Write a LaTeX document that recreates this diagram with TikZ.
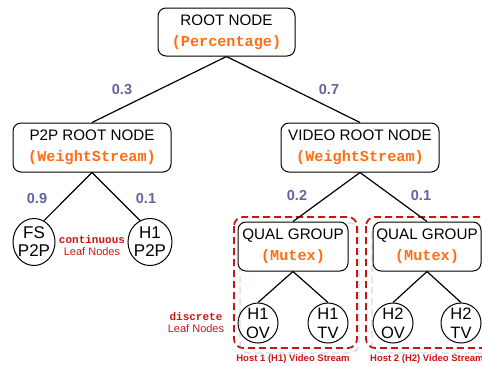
\documentclass[tikz,border=0pt]{standalone}
\usepackage{fontspec}
\setmainfont{Liberation Sans}
\setmonofont{Liberation Mono}
\usetikzlibrary{shapes.geometric}
\definecolor{codeor}{RGB}{255,110,20}
\definecolor{wnum}{RGB}{100,100,160}
\definecolor{dred}{RGB}{204,20,20}
\definecolor{lblue}{RGB}{205,218,238}
\newcommand{\codetxt}[1]{{\ttfamily\bfseries\color{codeor}#1}}
\begin{document}
\begin{tikzpicture}[x=1pt,y=-1pt,
  box/.style={draw,fill=white,rounded corners=8pt,line width=1pt,align=center,inner sep=0pt,font=\fontsize{15.2}{21}\selectfont},
  leafell/.style={draw,ellipse,line width=1pt,align=center,inner sep=-2pt,font=\fontsize{17}{18}\selectfont},
  leafcirc/.style={draw,circle,line width=1pt,align=center,inner sep=0pt,minimum size=40pt,font=\fontsize{16.5}{19}\selectfont},
  edge/.style={line width=1.2pt},
  wt/.style={font=\fontsize{14.5}{16}\selectfont\bfseries,text=wnum},
  note/.style={align=center,text=dred,font=\fontsize{11}{12}\selectfont},
  hostlbl/.style={text=dred,font=\fontsize{9.5}{11}\selectfont\bfseries,inner sep=0pt},
  reddash/.style={draw=dred,line width=1.8pt,dash pattern=on 7pt off 4pt,rounded corners=9pt},
  bluedash/.style={draw=lblue,line width=1.2pt,dash pattern=on 7pt off 4pt,rounded corners=9pt}]
\useasboundingbox (0,0) rectangle (482,365);

% group frames
\draw[bluedash] (240,223) rectangle (359,353);
\draw[bluedash] (372,223) rectangle (498,353);
\draw[reddash] (234,217) rectangle (357,348);
\draw[reddash] (366,217) rectangle (495,348);

% nodes
\node[box,minimum width=137pt,minimum height=48pt] (root) at (226.5,32) {ROOT NODE\\\codetxt{(Percentage)}};
\node[box,minimum width=158pt,minimum height=49pt] (p2p) at (92,147.5) {P2P ROOT NODE\\\codetxt{(WeightStream)}};
\node[box,minimum width=158pt,minimum height=49pt] (video) at (360,147.5) {VIDEO ROOT NODE\\\codetxt{(WeightStream)}};
\node[box,minimum width=110pt,minimum height=49pt] (q1) at (293,246.5) {QUAL GROUP\\\codetxt{(Mutex)}};
\node[box,minimum width=108pt,minimum height=49pt] (q2) at (427,246.5) {QUAL GROUP\\\codetxt{(Mutex)}};

\node[leafell,minimum width=42pt,minimum height=47pt] (fs) at (34,242) {FS\\P2P};
\node[leafell,minimum width=44pt,minimum height=47pt] (h1p) at (150,242) {H1\\P2P};

\node[leafcirc] (h1ov) at (258,323) {H1\\OV};
\node[leafcirc] (h1tv) at (328,323) {H1\\TV};
\node[leafcirc] (h2ov) at (393,323) {H2\\OV};
\node[leafcirc] (h2tv) at (461,323) {H2\\TV};

% edges
\draw[edge] (root.south) -- (p2p.north);
\draw[edge] (root.south) -- (video.north);
\draw[edge] (p2p.south) -- (fs.65);
\draw[edge] (p2p.south) -- (h1p.115);
\draw[edge] (video.south) -- (q1.north);
\draw[edge] (video.south) -- (q2.north);
\draw[edge] (q1.south) -- (h1ov.north);
\draw[edge] (q1.south) -- (h1tv.north);
\draw[edge] (q2.south) -- (h2ov.north);
\draw[edge] (q2.south) -- (h2tv.north);

% weights
\node[wt] (w1) at (122,90) {0.3};
\node[wt] (w2) at (329,90) {0.7};
\node[wt] (w3) at (37,199) {0.9};
\node[wt] (w4) at (146,199) {0.1};
\node[wt] (w5) at (297,196) {0.2};
\node[wt] (w6) at (421,196) {0.1};

% notes
\node[note] (cont) at (92,246) {{\ttfamily\bfseries continuous}\\Leaf Nodes};
\node[note] (disc) at (196,323) {{\ttfamily\bfseries discrete}\\Leaf Nodes};
\node[hostlbl] (host1) at (293,359) {Host 1 (H1) Video Stream};
\node[hostlbl,anchor=west] (host2) at (370,359) {Host 2 (H2) Video Stream};
\end{tikzpicture}
\end{document}
